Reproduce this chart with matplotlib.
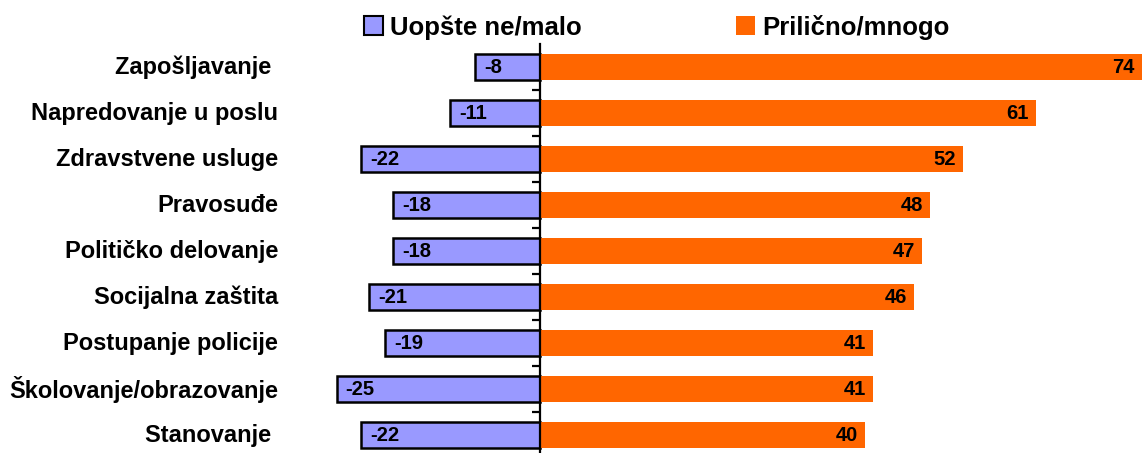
import numpy as np
import matplotlib
matplotlib.use("Agg")
import matplotlib.pyplot as plt
import matplotlib.transforms as mtransforms

plt.rcParams['font.family'] = ['Liberation Sans', 'DejaVu Sans']
plt.rcParams['font.weight'] = 'bold'

# ── Data ──────────────────────────────────────────────────────────────────────
categories = ['Zapošljavanje ', 'Napredovanje u poslu', 'Zdravstvene usluge',
              'Pravosuđe', 'Političko delovanje', 'Socijalna zaštita',
              'Postupanje policije', 'Školovanje/obrazovanje', 'Stanovanje ']
low_vals  = [-8, -11, -22, -18, -18, -21, -19, -25, -22]   # Uopšte ne/malo
high_vals = [74, 61, 52, 48, 47, 46, 41, 41, 40]           # Prilično/mnogo

PURPLE = '#9999FF'
ORANGE = '#FF6600'

# ── Figure ────────────────────────────────────────────────────────────────────
W, H = 1142, 453
fig = plt.figure(figsize=(W / 100, H / 100), dpi=100)
ax = fig.add_axes([330 / W, 0, 812 / W, (H - 44) / H])

y = np.arange(len(categories))
bh = 0.58

ax.barh(y, low_vals, height=bh, color=PURPLE, edgecolor='black',
        linewidth=1.8, label='Uopšte ne/malo', zorder=2)
ax.barh(y, high_vals, height=bh, color=ORANGE, edgecolor='none',
        label='Prilično/mnogo', zorder=2)

# value labels
for yi, v in zip(y, low_vals):
    ax.annotate(f'{v}', xy=(v, yi), xytext=(6.5, 0), textcoords='offset points',
                ha='left', va='center', fontsize=14.5, fontweight='bold', zorder=4)
for yi, v in zip(y, high_vals):
    ax.annotate(f'{v}', xy=(v, yi), xytext=(-5, 0), textcoords='offset points',
                ha='right', va='center', fontsize=14.5, fontweight='bold', zorder=4)

# category labels
trans = mtransforms.blended_transform_factory(ax.transAxes, ax.transData)
for yi, lab in zip(y, categories):
    ax.text((278 - 330) / 812, yi, lab, transform=trans, ha='right', va='center',
            fontsize=17, fontweight='bold')

ax.set_xlim(-25.8, 74.05)
ax.set_ylim(8.39, -0.5)

# axes styling: only vertical axis at zero
for s in ['top', 'right', 'bottom']:
    ax.spines[s].set_visible(False)
ax.spines['left'].set_position(('data', 0))
ax.spines['left'].set_linewidth(1.6)
ax.set_xticks([])
ax.set_yticks(y[:-1] + 0.5)
ax.set_yticks(y, minor=True)
ax.set_yticklabels([])
ax.tick_params(axis='y', which='both', direction='out', length=5.5,
               width=1.6, labelleft=False)

leg = fig.legend(loc='center', bbox_to_anchor=(657 / W, 1 - 27 / H), ncol=2,
                 frameon=False, fontsize=18.5, handlelength=0.72,
                 handleheight=0.72, handletextpad=0.3, columnspacing=6.0,
                 borderpad=0, borderaxespad=0)
for t in leg.get_texts():
    t.set_fontweight('bold')
leg.legend_handles[0].set_linewidth(1.5)

fig.savefig('out.png', dpi=100)
